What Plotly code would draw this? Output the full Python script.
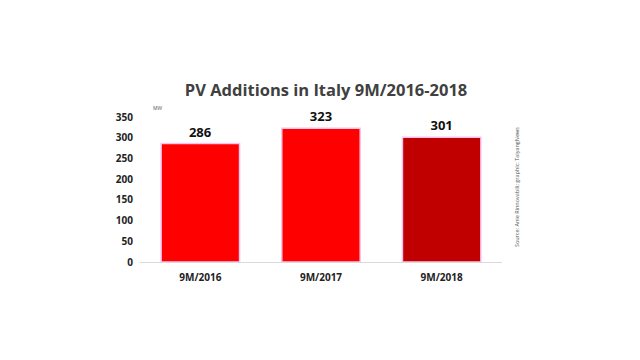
import plotly.graph_objects as go

categories = ["9M/2016", "9M/2017", "9M/2018"]
values = [286, 323, 301]
bar_colors = ["#ff0000", "#ff0000", "#c00000"]
y_ticks = [0, 50, 100, 150, 200, 250, 300, 350]

fig = go.Figure()
fig.add_trace(go.Bar(
    x=categories, y=values,
    marker=dict(color=bar_colors, line=dict(color="#f6c4ee", width=1.5)),
    width=0.65,
    text=[str(v) for v in values],
    textposition="outside",
    textfont=dict(family="Open Sans", size=13, color="#111111", weight="bold"),
    cliponaxis=False,
    hoverinfo="skip",
))

fig.update_layout(
    width=640, height=360,
    paper_bgcolor="white", plot_bgcolor="white",
    margin=dict(l=132, r=146, t=109, b=106),
    title=dict(text="<b>PV Additions in Italy 9M/2016-2018</b>",
               x=0.497, xanchor="center", y=0.772, yanchor="middle",
               font=dict(family="Open Sans", size=16.5, color="#404040")),
    showlegend=False,
)
fig.update_xaxes(
    range=[-0.5, 2.5], showline=True, linecolor="#d9d9d9", linewidth=1,
    ticks="", showgrid=False, ticklabelstandoff=6,
    tickfont=dict(family="Open Sans", size=10, color="#222222", weight="bold"),
)
fig.update_yaxes(
    range=[0, 350], tickvals=y_ticks, showgrid=False, zeroline=False,
    showline=False, ticks="", ticklabelstandoff=6,
    tickfont=dict(family="Open Sans", size=10, color="#222222", weight="bold"),
)
fig.add_annotation(text="MW", xref="paper", yref="paper", x=0.03, y=1.06,
                   showarrow=False, xanchor="left", yanchor="middle",
                   font=dict(family="Open Sans", size=5, color="#555555"))
fig.add_annotation(text="Source: Anie Rinnovabili; graphic: TaiyangNews",
                   xref="paper", yref="paper", x=1.04, y=0.52,
                   showarrow=False, textangle=-90, xanchor="center", yanchor="middle",
                   font=dict(family="Open Sans", size=5.5, color="#555555"))

fig.write_html("out.html")
